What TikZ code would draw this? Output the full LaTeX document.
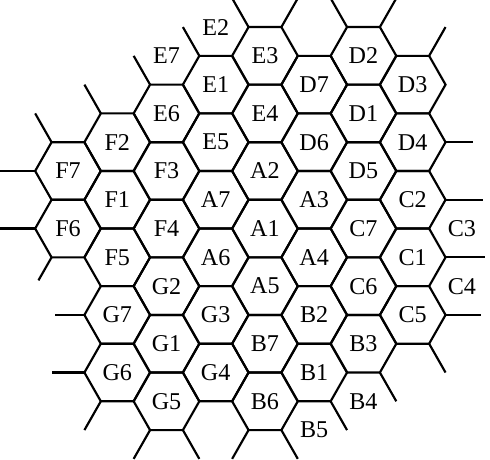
\documentclass[tikz,border=0pt]{standalone}
\usepackage{fontspec}
\setmainfont{Liberation Serif}
\usepackage{tikz}

\begin{document}
\begin{tikzpicture}[x=0.67cm,y=0.6784cm,line width=1.25pt,
    cell/.style={font=\fontsize{14}{16}\selectfont,inner sep=0pt}]
  \useasboundingbox (-2.071,0.814) rectangle (12.854,-12.994);
  \clip (-2.071,0.814) rectangle (12.854,-12.994);
  % name/column/row (row in half cell heights), 1 = whole hexagon
  \foreach \nm/\col/\row/\full in {
      F7/0/5/1, F6/0/7/1,
      F2/1/4/1, F1/1/6/1, F5/1/8/1, G7/1/10/1, G6/1/12/1,
      E7/2/1/0, E6/2/3/1, F3/2/5/1, F4/2/7/1, G2/2/9/1, G1/2/11/1, G5/2/13/1,
      E2/3/0/0, E1/3/2/1, E5/3/4/1, A7/3/6/1, A6/3/8/1, G3/3/10/1, G4/3/12/1,
      E3/4/1/1, E4/4/3/1, A2/4/5/1, A1/4/7/1, A5/4/9/1, B7/4/11/1, B6/4/13/1,
      D7/5/2/1, D6/5/4/1, A3/5/6/1, A4/5/8/1, B2/5/10/1, B1/5/12/1, B5/5/14/0,
      D2/6/1/1, D1/6/3/1, D5/6/5/1, C7/6/7/1, C6/6/9/1, B3/6/11/1, B4/6/13/0,
      D3/7/2/1, D4/7/4/1, C2/7/6/1, C1/7/8/1, C5/7/10/1,
      C3/8/7/0, C4/8/9/0} {
    \node[cell] (\nm) at ({1.5*\col},{-0.866*\row}) {\nm};
    \ifnum\full=1
      \draw (\nm.center) +(1,0) -- +(0.5,0.866) -- +(-0.5,0.866) -- +(-1,0)
        -- +(-0.5,-0.866) -- +(0.5,-0.866) -- cycle;
    \fi}
  % loose edges round the border
  \foreach \nm/\dx/\dy/\len in {
      F7/-0.5/0.866/1, F7/-1/0/1.1, F6/-1/0/1.1, F6/-0.5/-0.866/0.8,
      F2/-0.5/0.866/1, G7/-1/0/0.9, G6/-1/0/1, G6/-0.5/-0.866/1,
      E6/-0.5/0.866/1, G5/-0.5/-0.866/1, G5/0.5/-0.866/1, E1/-0.5/0.866/1,
      E3/-0.5/0.866/1, E3/0.5/0.866/1, B6/-0.5/-0.866/1, B6/0.5/-0.866/1,
      B1/0.5/-0.866/1, D2/-0.5/0.866/1, D2/0.5/0.866/1, B3/0.5/-0.866/1,
      D3/0.5/0.866/1, D4/1/0/0.85, C2/1/0/1.15, C1/1/0/1.2, C5/1/0/1.07,
      C5/0.5/-0.866/1}
    \draw (\nm.center) ++(\dx,\dy) -- ++({\len*\dx},{\len*\dy});
\end{tikzpicture}
\end{document}
